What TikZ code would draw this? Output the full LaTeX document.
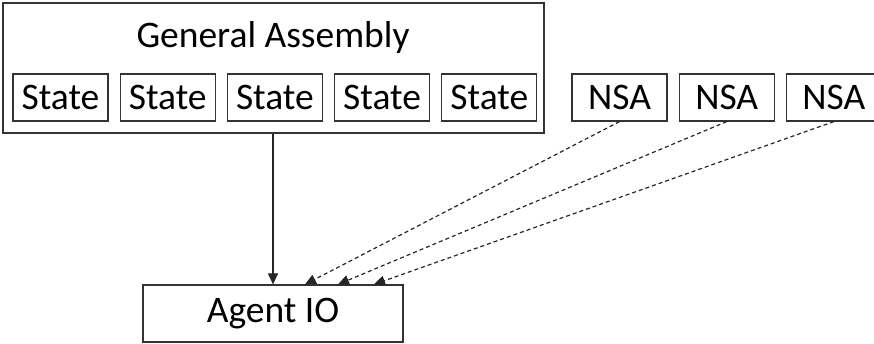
\documentclass[tikz,border=0pt]{standalone}
\usepackage{fontspec}
\setmainfont{Carlito}
\usepackage{tikz}
\usetikzlibrary{arrows.meta, positioning}

\begin{document}
\begin{tikzpicture}[x=1pt,y=-1pt,node distance=11pt,>={Triangle[length=11pt,width=10pt]},
      every node/.style={font=\fontsize{37.5}{45}\selectfont},
      box/.style={draw=black!80,line width=1.2pt,inner sep=0pt,minimum height=47pt,minimum width=95pt},
      outer/.style={draw=black!80,line width=1.3pt,minimum width=541pt,minimum height=130pt,inner sep=0pt},
      link/.style={black!85,line width=1.2pt},
      nsalink/.style={link,dashed,dash pattern=on 4pt off 3pt}]
      \useasboundingbox (0,0) rectangle (874,344);
      \node[outer] (ga) at (273.5,68) {};
      \node[anchor=base] (gatitle) at (273,48) {General Assembly};
      \node[box] (s1) at (60.5,97.5) {State};
      \node[box] (s2) [right=of s1] {State};
      \node[box] (s3) [right=of s2] {State};
      \node[box] (s4) [right=of s3] {State};
      \node[box] (s5) [right=of s4] {State};
      \node[box] (nsa1) [right=34pt of s5] {NSA};
      \node[box] (nsa2) [right=of nsa1] {NSA};
      \node[box] (nsa3) [right=of nsa2] {NSA};
      \node[box,minimum width=260pt,minimum height=57pt] (agent) at (273,313.5) {Agent IO};
      \draw[link,->] (ga.south -| agent.north) -- (agent.north);
      \draw[nsalink,->] (nsa1.south) -- ([xshift=32pt]agent.north);
      \draw[nsalink,->] (nsa2.south) -- ([xshift=65pt]agent.north);
      \draw[nsalink,->] (nsa3.south) -- ([xshift=101pt]agent.north);
\end{tikzpicture}
\end{document}
